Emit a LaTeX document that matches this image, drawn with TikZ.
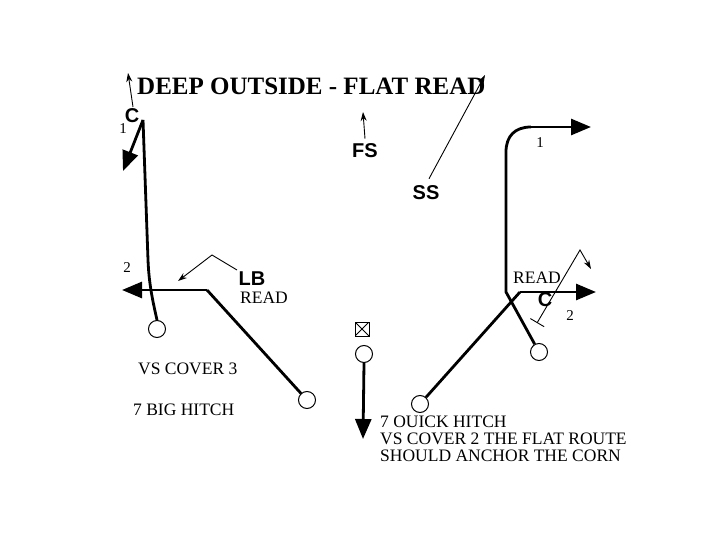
\documentclass[tikz,border=0pt]{standalone}
\usepackage{fontspec}
\setmainfont{Liberation Serif}
\setsansfont{Liberation Sans}
\usetikzlibrary{arrows.meta}
\begin{document}
\begin{tikzpicture}[x=1pt,y=-1pt,
  player/.style={circle, draw, line width=1pt, minimum size=17pt, inner sep=0pt},
  route/.style={line width=2.8pt},
  bigarrow/.style={route, -{Triangle[length=20pt,width=16pt]}},
  thinline/.style={line width=0.9pt},
  thinarrow/.style={thinline, -{Stealth[length=9pt,width=6pt]}},
  lbl/.style={font=\sffamily\bfseries\fontsize{20}{20}\selectfont, inner sep=0pt},
  txt/.style={font=\fontsize{17.5}{17}\selectfont, inner sep=0pt, anchor=base west},
  num/.style={font=\fontsize{15}{15}\selectfont, inner sep=0pt},
  centerbox/.style={draw, line width=0.8pt, minimum size=14pt, inner sep=0pt,
    path picture={\draw[line width=0.8pt] (path picture bounding box.north west) -- (path picture bounding box.south east)
      (path picture bounding box.north east) -- (path picture bounding box.south west);}}]
\useasboundingbox (0,0) rectangle (720,540);
% title
\node[anchor=base west, font=\bfseries\fontsize{25}{25}\selectfont, inner sep=0pt] (title) at (137,95) {DEEP OUTSIDE - FLAT READ};
% players
\node[player] (p1) at (157,329) {};
\node[player] (p2) at (307,400) {};
\node[centerbox] (ball) at (362,329) {};
\node[player] (qb) at (364,354) {};
\node[player] (p3) at (420,404) {};
\node[player] (p4) at (539,352) {};
% defenders
\node[lbl] (cl) at (132,116) {C};
\node[lbl] (lb) at (252,279) {LB};
\node[lbl] (fs) at (365,151) {FS};
\node[lbl] (ss) at (426,193) {SS};
\node[lbl] (cr) at (545,300) {C};
% coordinates
\coordinate (clTop) at (143,120);
\coordinate (clTip) at (123,171);
\coordinate (clDeep) at (128,73);
\coordinate (clFoot) at (133,107);
\coordinate (lCorner) at (207,290);
\coordinate (lTip) at (122,290);
\coordinate (lbA) at (237,270);
\coordinate (lbB) at (212,255);
\coordinate (lbC) at (178,281);
\coordinate (fsTip) at (363,112);
\coordinate (ssTip) at (485,75);
\coordinate (qbTip) at (363,439);
\coordinate (rJoin) at (520,292);
\coordinate (rTip) at (596,292);
\coordinate (rBase) at (506,292);
\coordinate (rUp) at (506,152);
\coordinate (rTurn) at (531,127);
\coordinate (rTop) at (591,127);
\coordinate (tBar) at (537,323);
\coordinate (tPeak) at (580,250);
\coordinate (tTip) at (591,269);
% left side routes
\draw[thinarrow] (clFoot) -- (clDeep);
\draw[bigarrow] (clTop) -- (clTip);
\draw[route] (p1.north) .. controls (153,302) and (149,285) .. (148,260) -- (clTop);
\draw[route] (p2) -- (lCorner);
\draw[bigarrow] (lCorner) -- (lTip);
\draw[thinarrow] (lbA) -- (lbB) -- (lbC);
% middle
\draw[thinarrow] (fs.north) ++(0,-5) -- (fsTip);
\draw[thinarrow] (ss.north) ++(3,-7) -- (ssTip);
\draw[bigarrow] (qb.south) -- (qbTip);
% right side
\draw[route] (p3) -- (rJoin);
\draw[bigarrow] (rJoin) -- (rTip);
\draw[route] (p4) -- (rBase) -- (rUp) .. controls (506,136) and (515,127) .. (rTurn);
\draw[bigarrow] (rTurn) -- (rTop);
\draw[thinline, {Bar[width=16pt]}-{Stealth[length=9pt,width=6pt]}] (tBar) -- (tPeak) -- (tTip);
% numbers
\node[num] (n1l) at (123,129) {1};
\node[num] (n2l) at (127,268) {2};
\node[num] (n1r) at (540,143) {1};
\node[num] (n2r) at (570,316) {2};
% texts
\node[txt] (readl) at (240,303) {READ};
\node[txt] (readr) at (513,283) {READ};
\node[txt] (vs3) at (138,374) {VS COVER 3};
\node[txt] (big) at (133,415) {7 BIG HITCH};
\begin{scope}
\clip (0,0) rectangle (627,540);
\node[txt, anchor=north west, align=left] (notes) at (380,416)
  {7 OUICK HITCH\\VS COVER 2 THE FLAT ROUTE\\SHOULD ANCHOR THE CORN};
\end{scope}
\end{tikzpicture}
\end{document}
